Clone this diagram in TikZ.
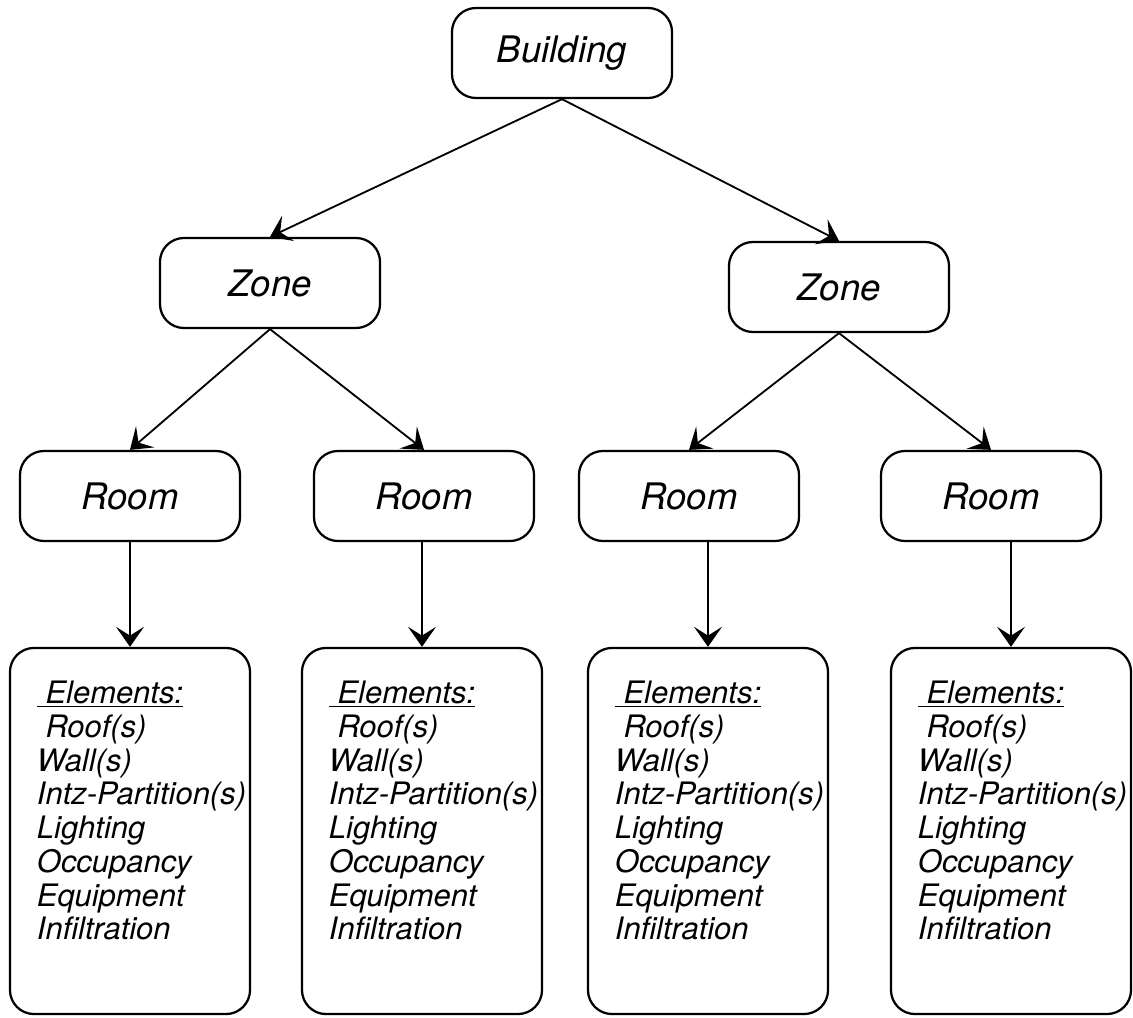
\documentclass[tikz,border=0pt]{standalone}
\usepackage{fontspec}
\setmainfont{TeX Gyre Heros}
\usepackage{tikz}
\usetikzlibrary{positioning}
\usetikzlibrary{arrows.meta,calc}
\newcommand{\titlefont}{\fontsize{26}{30}\selectfont\itshape}
\newcommand{\elemfont}{\fontsize{22}{24}\selectfont\itshape}
\newcommand{\elemlist}{%
\begin{tabular}{@{\hspace{0.575cm}}l@{}}
\underline{\ Elements:}\\
\ Roof(s)\\
Wall(s)\\
Intz-Partition(s)\\
Lighting\\
Occupancy\\
Equipment\\
Infiltration\rule[-30pt]{0pt}{0pt}
\end{tabular}}
\tikzstyle{level} = [rectangle, rounded corners=0.6cm, minimum width=5.5cm, minimum height=2.25cm, text centered, draw=black, line width=1.6pt, font=\titlefont]
\tikzstyle{elements} = [rectangle, rounded corners=0.6cm, minimum width=6cm, minimum height=9.15cm, inner sep=0pt, draw=black, line width=1.6pt, font=\elemfont]
\tikzstyle{arrow} = [line width=1.3pt, -{Stealth[length=0.5cm, width=0.7cm, inset=0.22cm]}]

\begin{document}
\begin{tikzpicture}[x=0.025cm, y=-0.025cm]
\useasboundingbox (0,0) rectangle (1133,1018);
\node (B) [level] at (562,53) {Building};
\node (ZL) [level] at (270,283) {Zone};
\node (ZR) [level] at (839,287) {Zone};
\node (R1) [level] at (130,496) {Room};
\node (R2) [level] at (424,496) {Room};
\node (R3) [level] at (689,496) {Room};
\node (R4) [level] at (991,496) {Room};
\node (E1) [elements] at (130,831) {\elemlist};
\node (E2) [elements] at (422,831) {\elemlist};
\node (E3) [elements] at (708,831) {\elemlist};
\node (E4) [elements] at (1011,831) {\elemlist};
\draw [arrow] (B.south) -- (ZL.north);
\draw [arrow] (B.south) -- (ZR.north);
\draw [arrow] (ZL.south) -- (R1.north);
\draw [arrow] (ZL.south) -- (R2.north);
\draw [arrow] (ZR.south) -- (R3.north);
\draw [arrow] (ZR.south) -- (R4.north);
\draw [arrow] (R1.south -| E1.north) -- (E1.north);
\draw [arrow] (R2.south -| E2.north) -- (E2.north);
\draw [arrow] (R3.south -| E3.north) -- (E3.north);
\draw [arrow] (R4.south -| E4.north) -- (E4.north);
\end{tikzpicture}
\end{document}
